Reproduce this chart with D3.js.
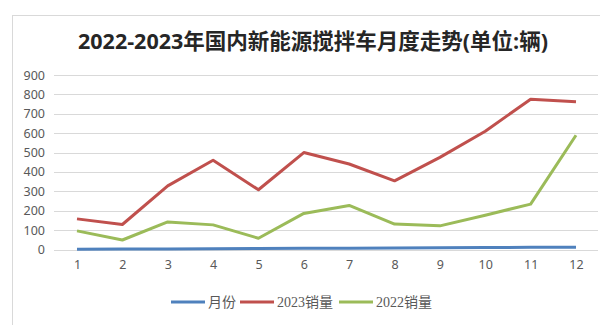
<!DOCTYPE html>
<html>
<head>
<meta charset="utf-8">
<script src="https://cdn.jsdelivr.net/npm/d3@7"></script>
<style>
  html, body { margin: 0; padding: 0; background: #fff; }
  svg { display: block; }
</style>
</head>
<body>
<svg id="chart" width="600" height="325"></svg>
<script>
// Monthly data (units: vehicles)
const months = [1, 2, 3, 4, 5, 6, 7, 8, 9, 10, 11, 12];
const sales2023 = [158, 129, 328, 460, 308, 500, 441, 354, 475, 610, 775, 762];
const sales2022 = [96, 49, 142, 127, 58, 186, 227, 131, 122, 177, 234, 589];
const yTicks = [0, 100, 200, 300, 400, 500, 600, 700, 800, 900];
const seriesNames = ["月份", "2023销量", "2022销量"];
const seriesColors = ["#4F81BD", "#C0504D", "#9BBB59"];
const seriesValues = [months, sales2023, sales2022];

const svg = d3.select("#chart");
const textColor = "#595959";

// chart frame
svg.append("rect")
  .attr("x", 12.5).attr("y", 15.5)
  .attr("width", 620).attr("height", 340)
  .attr("fill", "#fff")
  .attr("stroke", "#d9d9d9").attr("stroke-width", 1);

// title
svg.append("text")
  .attr("x", 313).attr("y", 49)
  .attr("text-anchor", "middle")
  .attr("font-family", "'Open Sans', 'Noto Sans CJK SC', sans-serif")
  .attr("font-weight", "bold")
  .attr("font-size", 21.5)
  .attr("fill", "#262626")
  .text("2022-2023年国内新能源搅拌车月度走势(单位:辆)");

const plotLeft = 54, plotRight = 598;
const x = d3.scalePoint().domain(months).range([77, 576]);
const y = d3.scaleLinear().domain([0, 900]).range([249.5, 75]);

// horizontal gridlines
svg.append("g")
  .selectAll("line")
  .data(yTicks)
  .join("line")
  .attr("x1", plotLeft).attr("x2", plotRight)
  .attr("y1", d => Math.round(y(d)) + 0.5)
  .attr("y2", d => Math.round(y(d)) + 0.5)
  .attr("stroke", "#d9d9d9")
  .attr("stroke-width", 1);

// y axis labels
const yAxis = d3.axisLeft(y).tickValues(yTicks).tickSize(0).tickPadding(0);
const gy = svg.append("g").attr("transform", "translate(45,0)").call(yAxis);
gy.select(".domain").remove();
gy.selectAll("text")
  .attr("font-family", "'Noto Sans', sans-serif")
  .attr("font-size", 12.5)
  .attr("fill", textColor);

// x axis labels
const xAxis = d3.axisBottom(x).tickSize(0).tickPadding(0);
const gx = svg.append("g").attr("transform", "translate(0,260)").call(xAxis);
gx.select(".domain").remove();
gx.selectAll("text")
  .attr("font-family", "'Noto Sans', sans-serif")
  .attr("font-size", 12.5)
  .attr("fill", textColor);

// series lines
const line = d3.line()
  .x((d, i) => x(months[i]))
  .y(d => y(d));

svg.append("g")
  .selectAll("path")
  .data(seriesValues)
  .join("path")
  .attr("d", d => line(d))
  .attr("fill", "none")
  .attr("stroke", (d, i) => seriesColors[i])
  .attr("stroke-width", 3)
  .attr("stroke-linejoin", "round");

// legend
const legendItems = [
  { x: 171, tx: 208 },
  { x: 240, tx: 277 },
  { x: 339, tx: 376 }
];
const lg = svg.append("g");
legendItems.forEach((it, i) => {
  lg.append("line")
    .attr("x1", it.x).attr("x2", it.x + 34)
    .attr("y1", 302).attr("y2", 302)
    .attr("stroke", seriesColors[i])
    .attr("stroke-width", 3);
  lg.append("text")
    .attr("x", it.tx).attr("y", 307)
    .attr("font-family", "'Liberation Serif', 'Noto Sans CJK SC', serif")
    .attr("font-size", 14)
    .attr("fill", textColor)
    .text(seriesNames[i]);
});
</script>
</body>
</html>
